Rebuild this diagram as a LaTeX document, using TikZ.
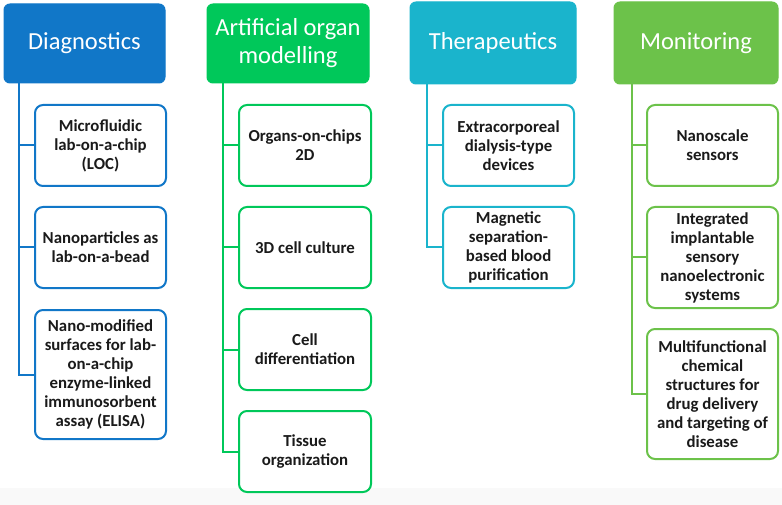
\documentclass[tikz,border=0pt]{standalone}
\usepackage{fontspec}
\setmainfont{Carlito}
\definecolor{cdiag}{RGB}{17,119,200}
\definecolor{corgan}{RGB}{0,200,90}
\definecolor{cther}{RGB}{26,180,204}
\definecolor{cmon}{RGB}{108,194,74}
\definecolor{ctext}{RGB}{26,26,26}
\begin{document}
\begin{tikzpicture}[x=1pt,y=-1pt,
  head/.style={rectangle, rounded corners=6pt, fill=#1, draw=#1, line width=1pt,
    text=white, align=center, inner sep=0pt,
    font=\fontsize{24.5}{28}\selectfont},
  item/.style={rectangle, rounded corners=8pt, draw=#1, line width=2pt, fill=white,
    text=ctext, align=center, inner sep=0pt, minimum width=131pt,
    font=\fontsize{16.8}{19}\selectfont\bfseries},
  conn/.style={draw=#1, line width=2pt}
]
\useasboundingbox (0,0) rectangle (782,505);
\fill[black!2.5] (0,488) rectangle (782,505);

% Diagnostics
\node[head=cdiag, minimum width=161pt, minimum height=79pt] (dh) at (84.5,43.5) {Diagnostics};
\node[item=cdiag, minimum height=81pt] (d1) at (100.5,145.5) {Microfluidic\\lab-on-a-chip\\(LOC)};
\node[item=cdiag, minimum height=81pt] (d2) at (100.5,247.5) {Nanoparticles as\\lab-on-a-bead};
\node[item=cdiag, minimum height=129pt] (d3) at (100.5,374.5) {Nano-modified\\surfaces for lab-\\on-a-chip\\enzyme-linked\\immunosorbent\\assay (ELISA)};
\foreach \c in {d1,d2,d3} \draw[conn=cdiag] ([xshift=15pt]dh.south west) |- (\c.west);

% Artificial organ modelling
\node[head=corgan, minimum width=162pt, minimum height=79pt] (oh) at (288,43.5) {Artificial organ\\modelling};
\node[item=corgan, minimum width=132pt, minimum height=81pt] (o1) at (305,145.5) {Organs-on-chips\\2D};
\node[item=corgan, minimum width=132pt, minimum height=81pt] (o2) at (305,247.5) {3D cell culture};
\node[item=corgan, minimum width=132pt, minimum height=81pt] (o3) at (305,349.5) {Cell\\differentiation};
\node[item=corgan, minimum width=132pt, minimum height=81pt] (o4) at (305,451.5) {Tissue\\organization};
\foreach \c in {o1,o2,o3,o4} \draw[conn=corgan] ([xshift=16pt]oh.south west) |- (\c.west);

% Therapeutics
\node[head=cther, minimum width=166pt, minimum height=82pt] (th) at (493,43) {Therapeutics};
\node[item=cther, minimum height=81pt] (t1) at (508.5,145.5) {Extracorporeal\\dialysis-type\\devices};
\node[item=cther, minimum height=81pt] (t2) at (508.5,247.5) {Magnetic\\separation-\\based blood\\purification};
\foreach \c in {t1,t2} \draw[conn=cther] ([xshift=17pt]th.south west) |- (\c.west);

% Monitoring
\node[head=cmon, minimum width=164pt, minimum height=82pt] (mh) at (696,43) {Monitoring};
\node[item=cmon, minimum height=81pt] (m1) at (712.5,145.5) {Nanoscale\\sensors};
\node[item=cmon, minimum height=101pt] (m2) at (712.5,257.5) {Integrated\\implantable\\sensory\\nanoelectronic\\systems};
\node[item=cmon, minimum height=130pt] (m3) at (712.5,394) {Multifunctional\\chemical\\structures for\\drug delivery\\and targeting of\\disease};
\foreach \c in {m1,m2,m3} \draw[conn=cmon] ([xshift=18pt]mh.south west) |- (\c.west);
\end{tikzpicture}
\end{document}
